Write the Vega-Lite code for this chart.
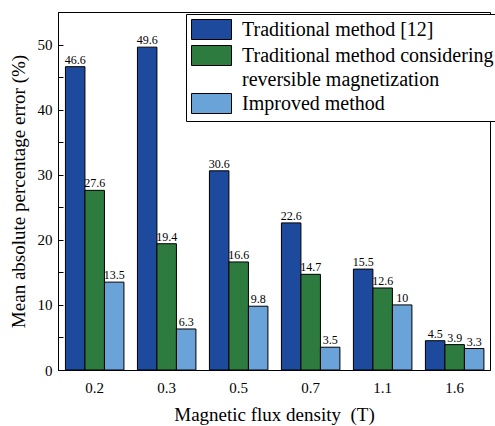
{
  "$schema": "https://vega.github.io/schema/vega-lite/v6.json",
  "width": 432,
  "height": 358,
  "autosize": {"type": "none"},
  "padding": {"left": 58, "top": 12, "right": 5, "bottom": 56},
  "background": "white",
  "config": {
    "font": "Liberation Serif",
    "view": {"stroke": "black", "strokeWidth": 1},
    "axis": {"domainColor": "black", "tickColor": "black", "labelColor": "black", "titleColor": "black", "grid": false, "labelFont": "Liberation Serif", "titleFont": "Liberation Serif", "titleFontWeight": "normal"}
  },
  "data": {
    "values": [
      {"B": "0.2", "method": "Traditional method [12]", "v": 46.6},
      {"B": "0.2", "method": "Traditional method considering", "v": 27.6},
      {"B": "0.2", "method": "Improved method", "v": 13.5},
      {"B": "0.3", "method": "Traditional method [12]", "v": 49.6},
      {"B": "0.3", "method": "Traditional method considering", "v": 19.4},
      {"B": "0.3", "method": "Improved method", "v": 6.3},
      {"B": "0.5", "method": "Traditional method [12]", "v": 30.6},
      {"B": "0.5", "method": "Traditional method considering", "v": 16.6},
      {"B": "0.5", "method": "Improved method", "v": 9.8},
      {"B": "0.7", "method": "Traditional method [12]", "v": 22.6},
      {"B": "0.7", "method": "Traditional method considering", "v": 14.7},
      {"B": "0.7", "method": "Improved method", "v": 3.5},
      {"B": "1.1", "method": "Traditional method [12]", "v": 15.5},
      {"B": "1.1", "method": "Traditional method considering", "v": 12.6},
      {"B": "1.1", "method": "Improved method", "v": 10},
      {"B": "1.6", "method": "Traditional method [12]", "v": 4.5},
      {"B": "1.6", "method": "Traditional method considering", "v": 3.9},
      {"B": "1.6", "method": "Improved method", "v": 3.3}
    ]
  },
  "encoding": {
    "x": {
      "field": "B", "type": "ordinal", "sort": null,
      "scale": {"paddingInner": 0.1875, "paddingOuter": 0.094, "align": 0.55},
      "axis": {"title": "Magnetic flux density\u00a0\u00a0(T)", "labelAngle": 0, "labelFontSize": 15, "titleFontSize": 19, "tickSize": -4, "labelPadding": 14, "titlePadding": 10, "domain": true}
    },
    "xOffset": {"field": "method", "type": "nominal", "sort": ["Traditional method [12]", "Traditional method considering", "Improved method"]},
    "y": {
      "field": "v", "type": "quantitative",
      "scale": {"domain": [0, 55], "nice": false},
      "axis": {"title": "Mean absolute percentage error (%)", "values": [0, 5, 10, 15, 20, 25, 30, 35, 40, 45, 50, 55], "labelExpr": "datum.value % 10 == 0 && datum.value < 55 ? datum.label : ''", "labelFontSize": 15, "titleFontSize": 19, "tickSize": -5, "labelPadding": 11, "titlePadding": 9}
    }
  },
  "layer": [
    {
      "mark": {"type": "bar", "stroke": "black", "strokeWidth": 1},
      "encoding": {
        "color": {
          "field": "method", "type": "nominal",
          "scale": {"domain": ["Traditional method [12]", "Traditional method considering", "\u00a0reversible magnetization", "Improved method"], "range": ["#1d4a9c", "#2e7b40", "#ffffff", "#6aa3d8"]},
          "legend": {
            "title": null, "orient": "none", "legendX": 128, "legendY": 2,
            "strokeColor": "black", "fillColor": "white", "padding": 5,
            "symbolType": "M-2,-1H2V1H-2Z", "symbolSize": 400, "symbolOffset": 10, "symbolStrokeColor": "black", "symbolStrokeWidth": 1, "symbolOpacity": 1,
            "labelFont": "Liberation Serif", "labelFontSize": 20, "labelColor": "black", "labelLimit": 400, "labelOffset": 20, "rowPadding": 1,
            "encode": {"symbols": {"update": {"strokeOpacity": {"signal": "datum.index == 2 ? 0 : 1"}, "fillOpacity": {"signal": "datum.index == 2 ? 0 : 1"}}}}
          }
        }
      }
    },
    {
      "mark": {"type": "text", "dy": -7, "fontSize": 12, "font": "Liberation Serif", "color": "black"},
      "encoding": {"text": {"field": "v", "type": "quantitative"}}
    }
  ]
}
